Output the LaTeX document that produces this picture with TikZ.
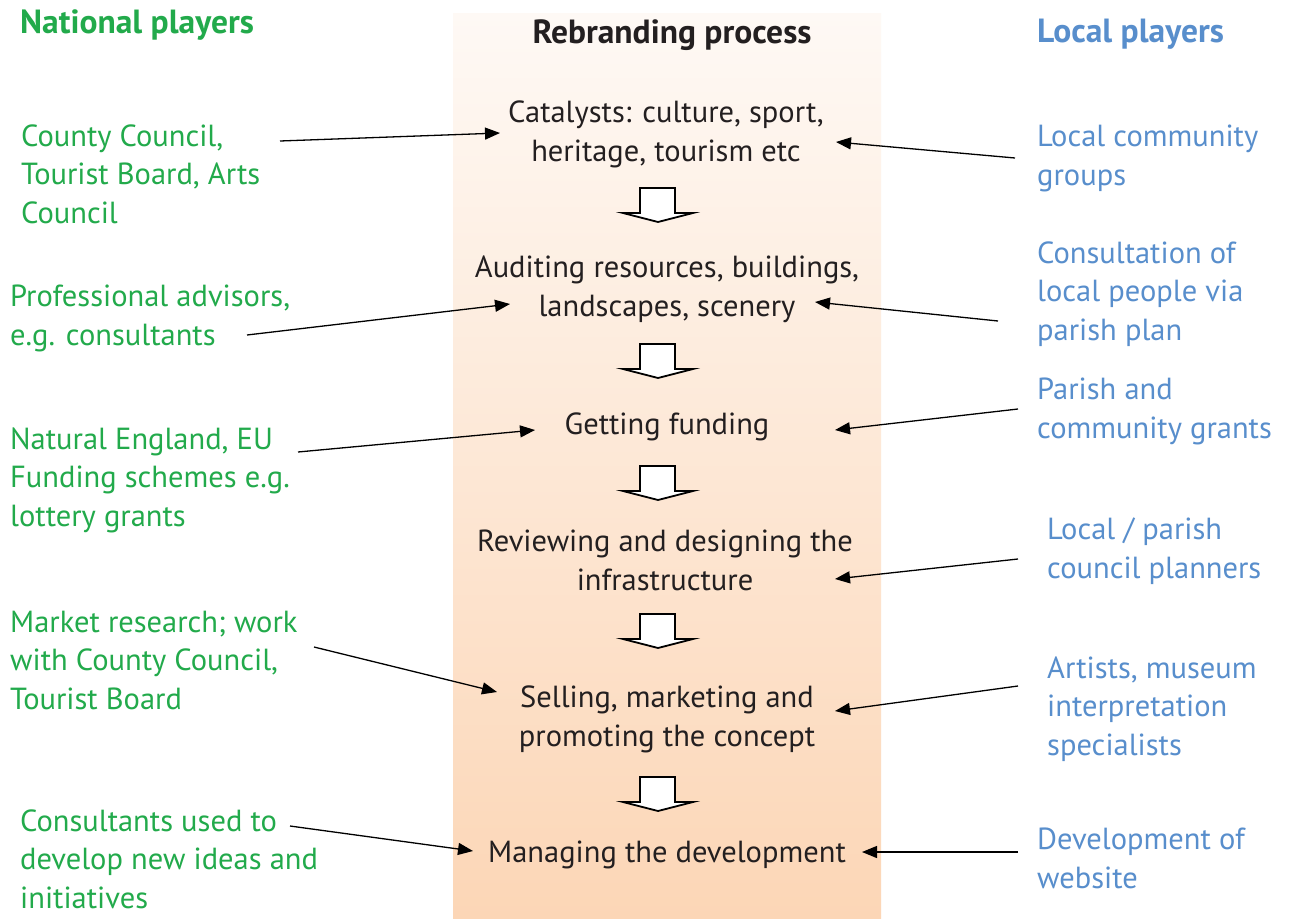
\documentclass[tikz,border=0pt]{standalone}
\usepackage{fontspec}
\setmainfont{PT Sans}
\usetikzlibrary{arrows.meta}
\definecolor{natgreen}{RGB}{34,170,75}
\definecolor{locblue}{RGB}{88,142,204}
\definecolor{darktext}{RGB}{35,31,32}
\definecolor{peachtop}{RGB}{254,249,245}
\definecolor{peachbot}{RGB}{252,214,182}
\tikzset{
  txt/.style={inner sep=0pt, font=\fontsize{30.5}{38.5}\selectfont},
  head/.style={inner sep=0pt, font=\fontsize{33.5}{38}\selectfont\bfseries},
  nat/.style={txt, text=natgreen, align=left, anchor=base west},
  loc/.style={txt, text=locblue, align=left, anchor=base west},
  stage/.style={txt, text=darktext, align=center, anchor=base},
  flow/.style={draw=black, line width=1.3pt, -{Triangle[length=15pt,width=12pt]}},
  blockarrow/.style={draw=black, fill=white, line width=1.8pt, line join=miter}
}
\begin{document}
\begin{tikzpicture}[x=1pt,y=-1pt]
\useasboundingbox (0,0) rectangle (1292,918);
\fill[white] (0,0) rectangle (1292,918);
\shade[top color=peachtop, bottom color=peachbot] (453,13) rectangle (881,918);

% headings (base anchor = baseline of the last line)
\node[head, text=natgreen, anchor=base west] (hnat) at (20,33) {National players};
\node[head, text=darktext, anchor=base] (hproc) at (672,43) {Rebranding process};
\node[head, text=locblue, anchor=base west] (hloc) at (1037,42) {Local players};

% stages
\node[stage] (s1) at (666,161) {Catalysts: culture, sport,\\heritage, tourism etc};
\node[stage] (s2) at (667,316) {Auditing resources, buildings,\\landscapes, scenery};
\node[stage] (s3) at (667,434) {Getting funding};
\node[stage] (s4) at (665,590) {Reviewing and designing the\\infrastructure};
\node[stage] (s5) at (667,746) {Selling, marketing and\\promoting the concept};
\node[stage] (s6) at (667,862) {Managing the development};

% block arrows
\foreach \t in {188,344,466,614,777}{
  \draw[blockarrow] (640,\t) -- (675,\t) -- (675,\t+25) -- (693,\t+25) -- (658,\t+34) -- (623,\t+25) -- (640,\t+25) -- cycle;
}

% national players
\node[nat] (n1) at (21,223) {County Council,\\Tourist Board, Arts\\Council};
\node[nat] (n2) at (10,345) {Professional advisors,\\e.g. consultants};
\node[nat] (n3) at (10,526) {Natural England, EU\\Funding schemes e.g.\\lottery grants};
\node[nat] (n4) at (10,709) {Market research; work\\with County Council,\\Tourist Board};
\node[nat] (n5) at (20,908) {Consultants used to\\develop new ideas and\\initiatives};

% local players
\node[loc] (r1) at (1037,185) {Local community\\groups};
\node[loc] (r2) at (1037,340) {Consultation of\\local people via\\parish plan};
\node[loc] (r3) at (1037,438) {Parish and\\community grants};
\node[loc] (r4) at (1047,578) {Local / parish\\council planners};
\node[loc] (r5) at (1047,755) {Artists, museum\\interpretation\\specialists};
\node[loc] (r6) at (1037,888) {Development of\\website};

% connector end points
\coordinate (n1e) at (280,141); \coordinate (s1l) at (500,133);
\coordinate (n2e) at (247,335); \coordinate (s2l) at (510,304);
\coordinate (n3e) at (298,452); \coordinate (s3l) at (535,430);
\coordinate (n4e) at (314,647); \coordinate (s5l) at (497,692);
\coordinate (n5e) at (290,826); \coordinate (s6l) at (473,851);
\coordinate (r1e) at (1015,158); \coordinate (s1r) at (836,142);
\coordinate (r2e) at (998,321);  \coordinate (s2r) at (815,302);
\coordinate (r3e) at (1018,409); \coordinate (s3r) at (835,430);
\coordinate (r4e) at (1018,559); \coordinate (s4r) at (835,579);
\coordinate (r5e) at (1018,686); \coordinate (s5r) at (835,711);
\coordinate (r6e) at (1018,852); \coordinate (s6r) at (862,852);

\draw[flow] (n1e) -- (s1l);
\draw[flow] (n2e) -- (s2l);
\draw[flow] (n3e) -- (s3l);
\draw[flow] (n4e) -- (s5l);
\draw[flow] (n5e) -- (s6l);
\draw[flow] (r1e) -- (s1r);
\draw[flow] (r2e) -- (s2r);
\draw[flow] (r3e) -- (s3r);
\draw[flow] (r4e) -- (s4r);
\draw[flow] (r5e) -- (s5r);
\draw[flow] (r6e) -- (s6r);
\end{tikzpicture}
\end{document}
